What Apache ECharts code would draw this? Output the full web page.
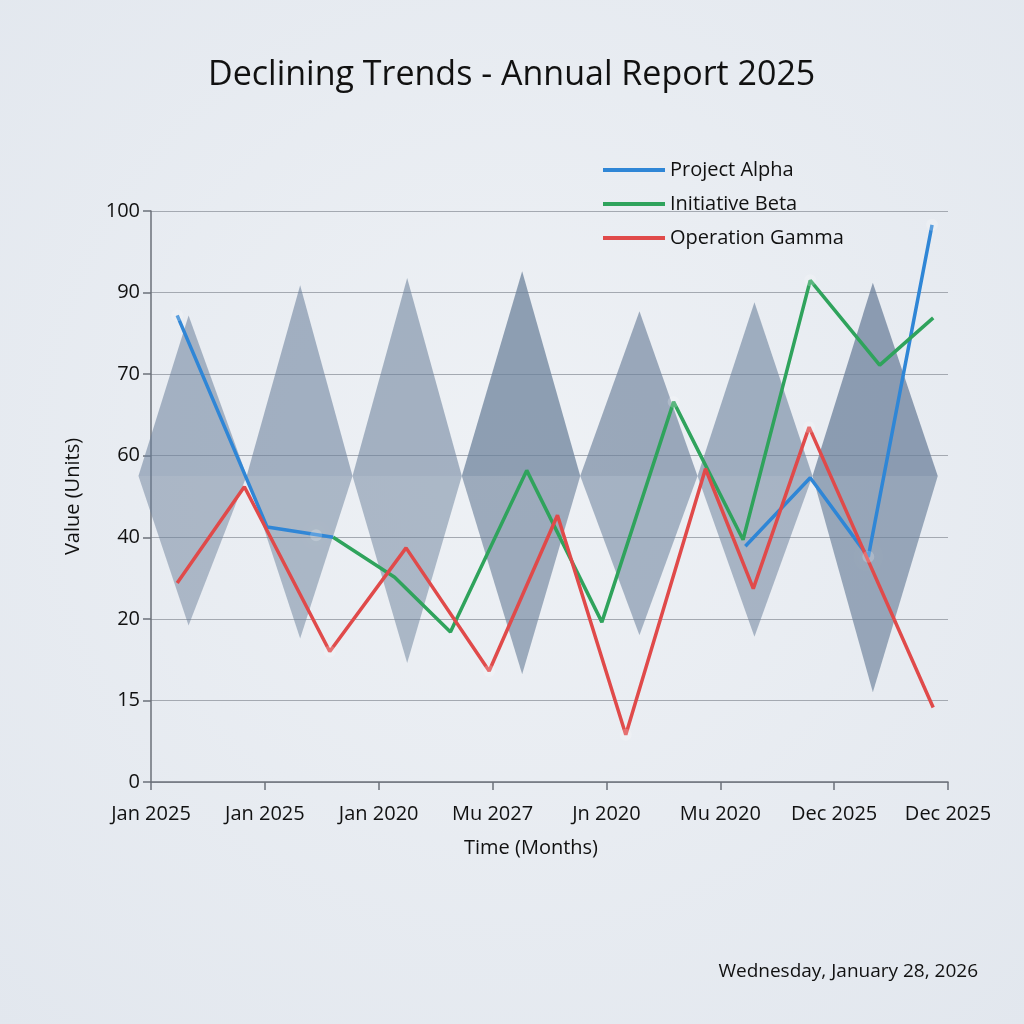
<!DOCTYPE html>
<html>
<head>
<meta charset="UTF-8" />
<title>Declining Trends</title>
<script src="https://cdn.jsdelivr.net/npm/echarts@6/dist/echarts.min.js"></script>
<style>
  html, body { margin: 0; padding: 0; background: #e9edf2; }
  #main { width: 1024px; height: 1024px; }
</style>
</head>
<body>
<div id="main"></div>
<script type="text/javascript">

    // x axis labels (one per tick, ticks are evenly spaced)
    var xLabels = ['Jan 2025', 'Jan 2025', 'Jan 2020', 'Mu 2027', 'Jn 2020', 'Mu 2020', 'Dec 2025', 'Dec 2025'];
    // y axis labels, evenly spaced even though the numbers are not
    var yTicks = [0, 15, 20, 40, 60, 70, 90, 100];

    // series points: [position along time axis, value]
    var alphaData = [[0.23, 84.4], [1.02, 42.5], [1.60, 40.0], null, [5.22, 37.8], [5.79, 54.6], [6.30, 35.2], [6.86, 98.3]];
    var betaData = [[1.60, 40.0], [2.14, 30.2], [2.63, 19.2], [3.30, 56.4], [3.96, 19.8], [4.59, 66.6], [5.20, 39.4], [5.79, 91.5], [6.40, 72.2], [6.87, 83.8]];
    var gammaData = [[0.23, 28.8], [0.82, 52.4], [1.57, 18.0], [2.24, 37.4], [2.97, 16.8], [3.57, 45.4], [4.17, 8.7], [4.87, 56.8], [5.29, 27.4], [5.78, 63.5], [6.87, 13.7]];

    // background diamonds
    var diamondCenter = [0.33, 1.31, 2.25, 3.26, 4.29, 5.30, 6.34];
    var diamondLeft = [-0.11, 0.84, 1.77, 2.73, 3.77, 4.80, 5.81];
    var diamondRight = [0.84, 1.77, 2.73, 3.77, 4.80, 5.81, 6.91];
    var diamondTop = [84.4, 90.9, 91.8, 92.6, 85.4, 87.6, 91.2];
    var diamondBottom = [19.6, 18.8, 17.3, 16.6, 19.0, 18.9, 15.5];
    var diamondMid = 55;

    // points that have a soft white glow
    var glowPoints = [[0.23, 84.4], [1.45, 40.5], [1.57, 18.0], [2.97, 16.8], [4.17, 8.7], [4.59, 66.6], [5.79, 91.5], [5.78, 63.5], [6.30, 35.2], [6.86, 98.3]];

    // diamond opacity (upper half, lower half)
    var alphaUp = [0.55, 0.57, 0.56, 0.73, 0.64, 0.59, 0.74];
    var alphaDown = [0.49, 0.50, 0.50, 0.62, 0.55, 0.52, 0.65];

    // value -> position on the evenly spaced y axis
    function toPos(v){
        for(let i = 0; i < yTicks.length - 1; i++){
            if(v <= yTicks[i+1]){
                return i + (v - yTicks[i]) / (yTicks[i+1] - yTicks[i]);
            }
        }
        return yTicks.length - 1;
    }

    function mapSeries(arr){
        return arr.map(function(p){ return p ? [p[0], toPos(p[1]), p[1]] : [null, null]; });
    }

    var diamondData = [];
    for(let i = 0; i < diamondCenter.length; i++){
        diamondData.push([diamondCenter[i], toPos(diamondTop[i]), toPos(diamondBottom[i]), diamondLeft[i], diamondRight[i], toPos(diamondMid), i]);
    }

    function renderDiamond(params, api){
        var cx = api.value(0), top = api.value(1), bottom = api.value(2);
        var left = api.value(3), right = api.value(4), mid = api.value(5);
        var i = api.value(6);
        var pTop = api.coord([cx, top]);
        var pBot = api.coord([cx, bottom]);
        var pL = api.coord([left, mid]);
        var pR = api.coord([right, mid]);
        return {
            type: 'group',
            children: [
                { type: 'polygon', shape: { points: [pL, pTop, pR] }, style: { fill: 'rgba(106,127,154,' + alphaUp[i] + ')' } },
                { type: 'polygon', shape: { points: [pL, pR, pBot] }, style: { fill: 'rgba(106,127,154,' + alphaDown[i] + ')' } }
            ]
        };
    }

    var lineCommon = {
        type: 'line',
        showSymbol: false,
        symbol: 'none',
        connectNulls: false,
        z: 5,
        animation: false
    };

    var font = 'Open Sans';

    var option = {
        backgroundColor: {
            type: 'radial', x: 0.5, y: 0.45, r: 0.75,
            colorStops: [{ offset: 0, color: '#eef1f5' }, { offset: 1, color: '#e2e7ee' }]
        },
        animation: false,
        title: {
            text: 'Declining Trends - Annual Report 2025',
            left: 203,
            top: 53,
            textStyle: { fontFamily: font, fontSize: 34, fontWeight: 'normal', color: '#111' }
        },
        legend: {
            orient: 'vertical',
            left: 598,
            top: 155,
            itemWidth: 62,
            itemHeight: 4,
            itemGap: 14,
            icon: 'rect',
            textStyle: { fontFamily: font, fontSize: 20, color: '#111' },
            data: ['Project Alpha', 'Initiative Beta', 'Operation Gamma']
        },
        grid: { left: 151, right: 76, top: 211, bottom: 242 },
        xAxis: {
            type: 'value',
            min: 0, max: 7, interval: 1,
            axisLine: { show: true, lineStyle: { color: '#6b7079', width: 1.5 } },
            axisTick: { show: true, length: 8, lineStyle: { color: '#6b7079', width: 1.5 } },
            splitLine: { show: false },
            axisLabel: {
                fontFamily: font, fontSize: 20, color: '#111', margin: 22,
                formatter: function(v){ return xLabels[Math.round(v)]; }
            }
        },
        yAxis: {
            type: 'value',
            min: 0, max: 7, interval: 1,
            name: 'Value (Units)',
            nameLocation: 'middle',
            nameGap: 68,
            nameRotate: 90,
            nameTextStyle: { fontFamily: font, fontSize: 20, color: '#111' },
            axisLine: { show: true, lineStyle: { color: '#6b7079', width: 1.5 } },
            axisTick: { show: true, length: 8, lineStyle: { color: '#6b7079', width: 1.5 } },
            splitLine: { show: true, lineStyle: { color: '#a4a9b1', width: 1.2 } },
            axisLabel: {
                fontFamily: font, fontSize: 20, color: '#111', margin: 11,
                formatter: function(v){ return String(yTicks[Math.round(v)]); }
            }
        },
        series: [
            {
                type: 'custom',
                name: 'diamonds',
                renderItem: renderDiamond,
                clip: false,
                silent: true,
                z: 1,
                encode: { x: [0, 3, 4], y: [1, 2] },
                data: diamondData
            },
            Object.assign({}, lineCommon, {
                name: 'Project Alpha',
                color: '#2f86d6',
                lineStyle: { width: 3.5, color: '#2f86d6' },
                data: mapSeries(alphaData)
            }),
            Object.assign({}, lineCommon, {
                name: 'Initiative Beta',
                color: '#2fa35c',
                lineStyle: { width: 3.5, color: '#2fa35c' },
                data: mapSeries(betaData)
            }),
            Object.assign({}, lineCommon, {
                name: 'Operation Gamma',
                color: '#e04a4a',
                lineStyle: { width: 3.5, color: '#e04a4a' },
                data: mapSeries(gammaData)
            }),
            {
                type: 'scatter',
                name: 'glow',
                silent: true,
                symbolSize: 12,
                z: 6,
                itemStyle: { color: 'rgba(255,255,255,0.25)', shadowBlur: 26, shadowColor: 'rgba(255,255,255,1)' },
                data: mapSeries(glowPoints)
            }
        ],
        graphic: [
            {
                type: 'text',
                left: 464,
                top: 838,
                style: { text: 'Time (Months)', fontFamily: font, fontSize: 20, fill: '#111' }
            },
            {
                type: 'text',
                right: 46,
                top: 962,
                style: { text: 'Wednesday, January 28, 2026', fontFamily: font, fontSize: 19, fill: '#111' }
            }
        ]
    };

    var myChart = echarts.init(document.getElementById('main'));
    myChart.setOption(option);
</script>
</body>
</html>
